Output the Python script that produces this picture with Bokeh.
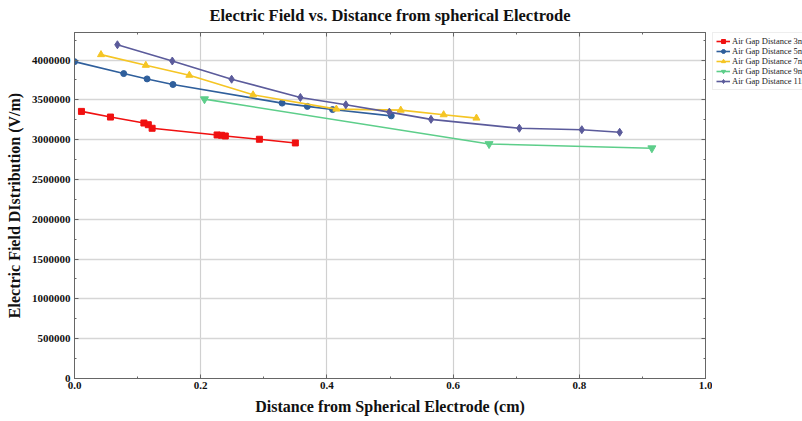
from bokeh.plotting import figure
from bokeh.layouts import row
from bokeh.models import (LinearAxis, FixedTicker, NumeralTickFormatter, Legend, LegendItem,
                          Range1d, CustomLabelingPolicy)
from bokeh.embed import file_html
from bokeh.resources import INLINE

# ---- data ----
x_3mm = [0.011, 0.057, 0.110, 0.117, 0.123, 0.226, 0.233, 0.239, 0.293, 0.350]
y_3mm = [3355000, 3284000, 3209000, 3188000, 3143000, 3059000, 3055000, 3046000, 3005000, 2959000]

x_5mm = [0.0, 0.078, 0.115, 0.156, 0.329, 0.369, 0.409, 0.502]
y_5mm = [3980000, 3830000, 3763000, 3693000, 3459000, 3418000, 3378000, 3299000]

x_7mm = [0.042, 0.113, 0.182, 0.283, 0.415, 0.517, 0.585, 0.637]
y_7mm = [4068000, 3934000, 3809000, 3563000, 3384000, 3371000, 3313000, 3271000]

x_9mm = [0.206, 0.657, 0.915]
y_9mm = [3509000, 2946000, 2893000]

x_11mm = [0.068, 0.155, 0.249, 0.358, 0.430, 0.499, 0.565, 0.705, 0.804, 0.864]
y_11mm = [4192000, 3988000, 3759000, 3530000, 3438000, 3346000, 3255000, 3143000, 3125000, 3093000]

series_labels = ["Air Gap Distance 3mm", "Air Gap Distance 5mm", "Air Gap Distance 7mm",
                 "Air Gap Distance 9mm", "Air Gap Distance 11mm"]
x_ticks = [0.0, 0.2, 0.4, 0.6, 0.8, 1.0]
x_minor = [0.1, 0.3, 0.5, 0.7, 0.9]
y_ticks = [0, 500000, 1000000, 1500000, 2000000, 2500000, 3000000, 3500000, 4000000]
y_minor = [250000, 750000, 1250000, 1750000, 2250000, 2750000, 3250000, 3750000, 4250000]

FONT = "Liberation Serif"

p = figure(width=712, height=421, output_backend="svg", toolbar_location=None,
           x_range=Range1d(0, 1.0), y_range=Range1d(0, 4346000),
           min_border_left=74, min_border_right=2, min_border_top=30, min_border_bottom=43)

p.title.text = "Electric Field vs. Distance from spherical Electrode"
p.title.text_font = FONT
p.title.text_font_size = "16.5px"
p.title.text_font_style = "bold"
p.title.text_color = "#111111"
p.title.align = "center"
p.title.offset = 0
p.title.standoff = 7

p.outline_line_color = "#777777"
p.background_fill_color = "white"
p.border_fill_color = "white"

no_labels = CustomLabelingPolicy(code="for (const i of Array.from(indices)) { indices.unset(i) }\nreturn indices")

def style_axis(ax, show_labels=True):
    ax.axis_line_color = "#666666"
    ax.major_tick_line_color = "#666666"
    ax.minor_tick_line_color = "#666666"
    ax.major_tick_in = 4
    ax.major_tick_out = 0
    ax.minor_tick_in = 2
    ax.minor_tick_out = 0
    if show_labels:
        ax.major_label_text_font = FONT
        ax.major_label_text_font_style = "bold"
        ax.major_label_text_font_size = "11px"
        ax.major_label_text_color = "#111111"
        ax.axis_label_text_font = FONT
        ax.axis_label_text_font_style = "bold"
        ax.axis_label_text_font_size = "16px"
        ax.axis_label_text_color = "#111111"
    else:
        ax.major_label_policy = no_labels
        ax.major_label_text_font_size = "1px"
        ax.major_label_standoff = 0

xa = p.xaxis[0]
ya = p.yaxis[0]
style_axis(xa)
style_axis(ya)
xa.ticker = FixedTicker(ticks=x_ticks, minor_ticks=x_minor)
ya.ticker = FixedTicker(ticks=y_ticks, minor_ticks=y_minor)
xa.formatter = NumeralTickFormatter(format="0.0")
ya.formatter = NumeralTickFormatter(format="0")
xa.axis_label = "Distance from Spherical Electrode (cm)"
ya.axis_label = "Electric Field DIstribution (V/m)"
xa.major_label_standoff = 3
ya.major_label_standoff = 4
xa.axis_label_standoff = 6
ya.axis_label_standoff = 6

top_ax = LinearAxis(ticker=FixedTicker(ticks=x_ticks, minor_ticks=x_minor))
style_axis(top_ax, show_labels=False)
p.add_layout(top_ax, "above")
right_ax = LinearAxis(ticker=FixedTicker(ticks=y_ticks, minor_ticks=y_minor))
style_axis(right_ax, show_labels=False)
p.add_layout(right_ax, "right")

p.xgrid.ticker = FixedTicker(ticks=[0.2, 0.4, 0.6, 0.8])
p.xgrid.grid_line_color = "#d0d0d0"
p.xgrid.grid_line_width = 1.2
p.ygrid.ticker = FixedTicker(ticks=y_ticks[1:])
p.ygrid.grid_line_color = "#d6d6d6"
p.ygrid.grid_line_width = 1.4

colors = ["#f01010", "#2f5f9c", "#f5c524", "#5dce8a", "#5b5b9b"]
xs = [x_3mm, x_5mm, x_7mm, x_9mm, x_11mm]
ys = [y_3mm, y_5mm, y_7mm, y_9mm, y_11mm]
markers = ["square", "circle", "triangle", "inverted_triangle", "diamond"]
sizes = [6, 6, 7, 8, 8]

for x, y, c, m, s in zip(xs, ys, colors, markers, sizes):
    p.line(x, y, line_color=c, line_width=1.6)
    p.scatter(x, y, marker=m, size=s, fill_color=c, line_color=c)

# legend panel (outside the frame, to the right); its renderers lie outside its view
p2 = figure(width=90, height=421, output_backend="svg", toolbar_location=None,
            x_range=Range1d(5, 6), y_range=Range1d(5, 6),
            x_axis_location=None, y_axis_location=None,
            min_border_left=0, min_border_right=0, min_border_bottom=0, min_border_top=25)
p2.outline_line_color = None
p2.grid.grid_line_color = None

items = []
for x, y, c, m, s, lab in zip(xs, ys, colors, markers, sizes, series_labels):
    r1 = p2.line(x, y, line_color=c, line_width=1.6)
    r2 = p2.scatter(x, y, marker=m, size=s - 1, fill_color=c, line_color=c)
    items.append(LegendItem(label=lab, renderers=[r1, r2]))

legend = Legend(items=items, location="top_left")
legend.label_text_font = FONT
legend.label_text_font_size = "8.5px"
legend.label_text_color = "#222222"
legend.label_height = 10
legend.glyph_height = 10
legend.glyph_width = 14
legend.label_standoff = 2
legend.spacing = 0
legend.padding = 3
legend.margin = 0
legend.border_line_color = "#dddddd"
legend.background_fill_color = "white"
legend.background_fill_alpha = 1.0
p2.add_layout(legend, "center")

layout = row(p, p2)
open("out.html", "w").write(file_html(layout, INLINE))
